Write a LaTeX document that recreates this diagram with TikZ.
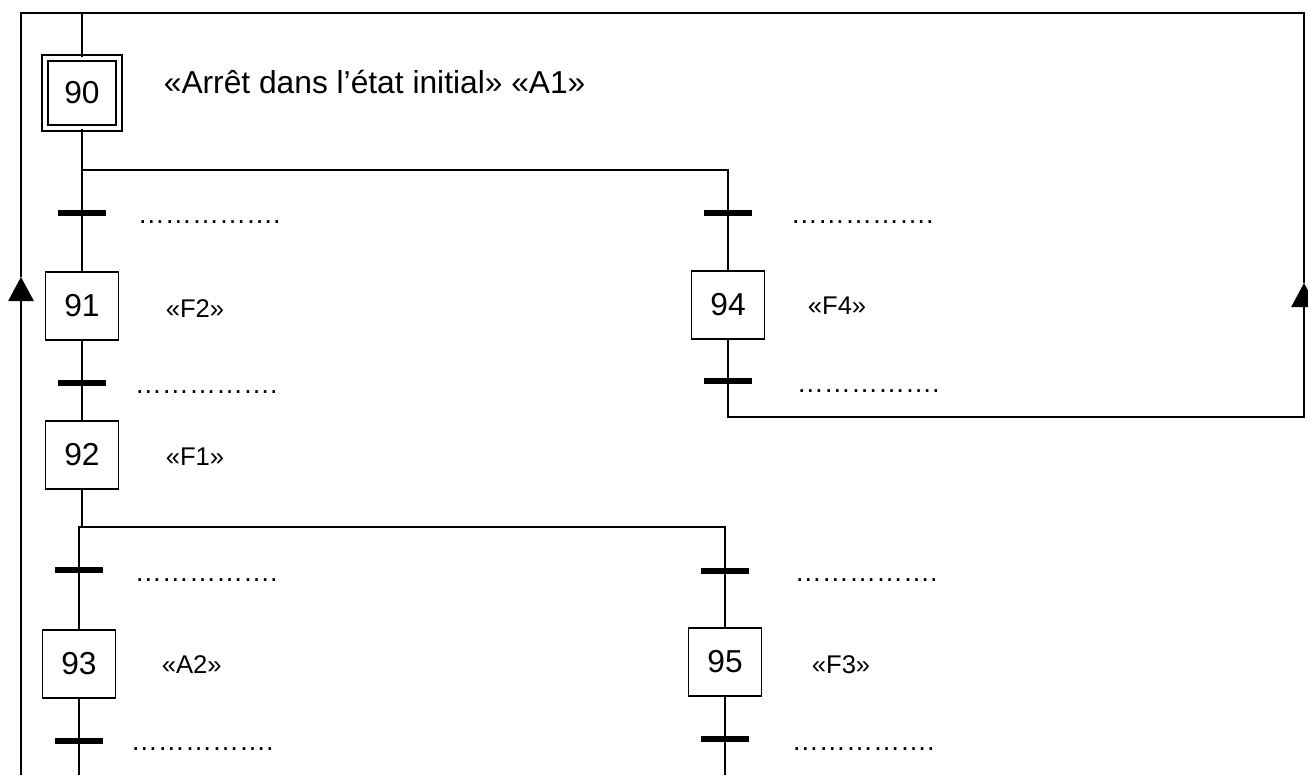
\documentclass[tikz,border=0pt]{standalone}
\usepackage{fontspec}
\setmainfont{Liberation Sans}
\usetikzlibrary{arrows.meta,positioning}

\begin{document}
\begin{tikzpicture}[
        x=0.75pt, y=-0.75pt, line width=1.3pt,
        etape/.style={draw, minimum width=54.75pt, minimum height=51pt,
                      inner sep=0pt, font=\fontsize{23.8}{28}\selectfont},
        init/.style={etape, double, double distance=3pt,
                     minimum width=55.5pt, minimum height=52.5pt},
        trans/.style={fill, inner sep=0pt, minimum width=36pt,
                      minimum height=3.8pt},
        recept/.style={anchor=base west, inner sep=0pt,
                       font=\fontsize{20.3}{24}\selectfont},
        action/.style={anchor=base west, inner sep=0pt,
                       font=\fontsize{19.2}{22}\selectfont},
        arr/.style={-{Triangle[length=18pt, width=19pt]}}
    ]
        \useasboundingbox (0,0) rectangle (1308,775);

        \node[init] (s90) at (82,93) {90};
        \node[etape] (s91) at (82,306) {91};
        \node[etape] (s92) at (82,455) {92};
        \node[etape] (s93) at (79,664) {93};
        \node[etape] (s94) at (728,305) {94};
        \node[etape] (s95) at (725,662) {95};

        \node[trans] (t1) at (82,213) {};
        \node[trans] (t2) at (728,213) {};
        \node[trans] (t3) at (82,383) {};
        \node[trans] (t4) at (728,381) {};
        \node[trans] (t5) at (79,570) {};
        \node[trans] (t6) at (725,571) {};
        \node[trans] (t7) at (79,741) {};
        \node[trans] (t8) at (725,739) {};

        \node[recept] (r1) at (137,223) {…………….};
        \node[recept] (r2) at (790,223) {…………….};
        \node[recept] (r3) at (134,393) {…………….};
        \node[recept] (r4) at (796,392) {…………….};
        \node[recept] (r5) at (134,581) {…………….};
        \node[recept] (r6) at (794,581) {…………….};
        \node[recept] (r7) at (130,750) {…………….};
        \node[recept] (r8) at (791,750) {…………….};

        \node[action, font=\fontsize{23.8}{28}\selectfont] (a90) at (163,93)
            {«Arrêt dans l’état initial» «A1»};
        \node[action] (a91) at (165,317) {«F2»};
        \node[action] (a92) at (165,465) {«F1»};
        \node[action] (a93) at (161,673) {«A2»};
        \node[action] (a94) at (807,314) {«F4»};
        \node[action] (a95) at (811,673) {«F3»};

        \coordinate (haut) at (21,13);
        \coordinate (hautd) at (1304,13);
        \coordinate (bas) at (21,775);
        \coordinate (fl) at (21,277);
        \coordinate (retd) at (1304,417);
        \coordinate (fld) at (1304,283);
        \coordinate (div1) at (82,170);
        \coordinate (div2) at (82,527);
        \coordinate (fin93) at (79,775);
        \coordinate (fin95) at (725,775);

        \draw (s90) -- (s91) -- (s92);
        \draw (s92.south) -- (div2);
        \draw (div1) -| (s94.north);
        \draw (div2) -| (s95.north);
        \draw (s93.north) |- (div2);
        \draw (s93) -- (fin93);
        \draw (s95) -- (fin95);
        \draw[arr] (s94.south) |- (retd) -- (fld);
        \draw[arr] (bas) -- (fl);
        \draw (fld) -- (hautd) -- (haut) -- (fl);
        \draw (haut -| s90.north) -- (s90.north);
    \end{tikzpicture}
\end{document}
